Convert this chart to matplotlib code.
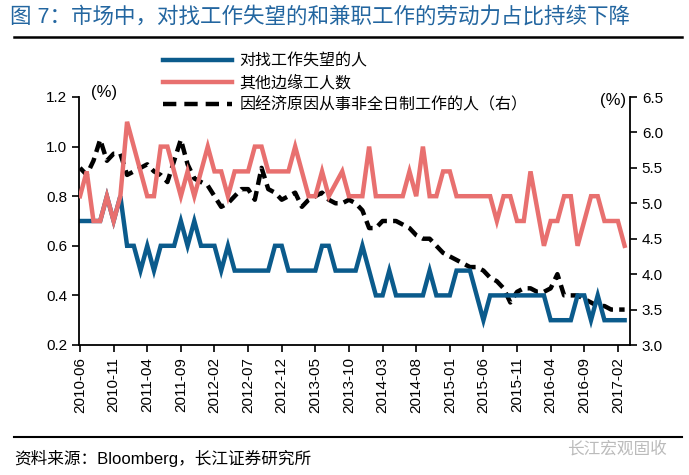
import matplotlib
matplotlib.use("Agg")
import matplotlib.pyplot as plt
from matplotlib.lines import Line2D
import pandas as pd

plt.rcParams['font.family'] = ['Liberation Sans', 'Noto Sans CJK SC', 'DejaVu Sans']

months = list(pd.period_range('2010-06', '2017-03', freq='M').strftime('%Y-%m'))

discouraged = [0.7, 0.7, 0.7, 0.7, 0.8, 0.7, 0.8, 0.6, 0.6, 0.5,
               0.6, 0.5, 0.6, 0.6, 0.6, 0.7, 0.6, 0.7, 0.6, 0.6,
               0.6, 0.5, 0.6, 0.5, 0.5, 0.5, 0.5, 0.5, 0.5, 0.6,
               0.6, 0.5, 0.5, 0.5, 0.5, 0.5, 0.6, 0.6, 0.5, 0.5,
               0.5, 0.5, 0.6, 0.5, 0.4, 0.4, 0.5, 0.4, 0.4, 0.4,
               0.4, 0.4, 0.5, 0.4, 0.4, 0.4, 0.5, 0.5, 0.5, 0.4,
               0.3, 0.4, 0.4, 0.4, 0.4, 0.4, 0.4, 0.4, 0.4, 0.4,
               0.3, 0.3, 0.3, 0.3, 0.4, 0.4, 0.3, 0.4, 0.3, 0.3,
               0.3, 0.3]

other_marginal = [0.8, 0.9, 0.7, 0.7, 0.8, 0.7, 0.8, 1.1, 1.0, 0.9,
                  0.8, 0.8, 1.0, 1.0, 0.9, 0.8, 0.9, 0.8, 0.9, 1.0,
                  0.9, 0.9, 0.8, 0.9, 0.9, 0.9, 1.0, 1.0, 0.9, 0.9,
                  0.9, 0.9, 1.0, 0.9, 0.8, 0.8, 0.9, 0.8, 0.85, 0.9,
                  0.8, 0.8, 0.8, 1.0, 0.8, 0.8, 0.8, 0.8, 0.8, 0.9,
                  0.8, 1.0, 0.8, 0.8, 0.9, 0.9, 0.8, 0.8, 0.8, 0.8,
                  0.8, 0.8, 0.7, 0.8, 0.8, 0.7, 0.7, 0.9, 0.75, 0.6,
                  0.7, 0.7, 0.8, 0.8, 0.6, 0.7, 0.8, 0.8, 0.7, 0.7,
                  0.7, 0.6]

part_time = [5.5, 5.4, 5.6, 5.9, 5.6, 5.7, 5.7, 5.4, 5.45, 5.5,
             5.55, 5.45, 5.4, 5.3, 5.6, 5.9, 5.55, 5.35, 5.3, 5.25,
             5.1, 4.95, 5.0, 5.1, 5.2, 5.2, 5.05, 5.5, 5.2, 5.15,
             5.05, 5.1, 5.15, 4.95, 5.05, 5.1, 5.15, 5.05, 5.0, 5.0,
             5.05, 5.0, 4.9, 4.65, 4.65, 4.75, 4.75, 4.75, 4.7, 4.65,
             4.55, 4.5, 4.5, 4.4, 4.3, 4.25, 4.2, 4.15, 4.1, 4.1,
             4.05, 3.95, 3.9, 3.8, 3.6, 3.75, 3.8, 3.8, 3.75, 3.75,
             3.8, 4.0, 3.7, 3.7, 3.7, 3.65, 3.6, 3.55, 3.55, 3.5,
             3.5, 3.5]

left_ticks = [0.2, 0.4, 0.6, 0.8, 1.0, 1.2]
right_ticks = [3.0, 3.5, 4.0, 4.5, 5.0, 5.5, 6.0, 6.5]

labels = ['对找工作失望的人', '其他边缘工人数', '因经济原因从事非全日制工作的人（右）']
title = '图 7：市场中，对找工作失望的和兼职工作的劳动力占比持续下降'
source = '资料来源：Bloomberg，长江证券研究所'
watermark = '长江宏观固收'

blue = '#0B5B8C'
pink = '#E8706F'

fig = plt.figure(figsize=(6.89, 4.75), dpi=100)
ax = fig.add_axes([79/689, 1-345/475, (630-79)/689, (345-97)/475])
ax2 = ax.twinx()

x = list(range(len(months)))
l1, = ax.plot(x, discouraged, color=blue, lw=3.2, solid_joinstyle='miter', zorder=2)
l2, = ax.plot(x, other_marginal, color=pink, lw=3.2, solid_joinstyle='miter', zorder=3)
l3, = ax2.plot(x, part_time, color='black', lw=3.2, dashes=(2.5, 1.4), zorder=4)

ax.set_ylim(0.2, 1.2)
ax2.set_ylim(3.0, 6.5)
ax.set_xlim(-0.15, len(months) - 1 + 0.8)
ax.set_yticks(left_ticks, [f'{v:.1f}' for v in left_ticks], fontsize=11)
ax2.set_yticks(right_ticks, [f'{v:.1f}' for v in right_ticks], fontsize=11)
ax.set_xticks(x[::5], months[::5], rotation=90, fontsize=11)

for a in (ax, ax2):
    a.spines['top'].set_visible(False)
    for s in a.spines.values():
        s.set_linewidth(1.3)
    a.tick_params(direction='out', length=5, width=1.2, colors='black')
ax.spines['right'].set_visible(False)
ax2.spines['left'].set_visible(False)
ax2.spines['bottom'].set_visible(False)
ax.set_zorder(ax2.get_zorder() + 1)
ax.patch.set_visible(False)

fig.text(104/689, 1-92/475, '(%)', fontsize=12, va='center', ha='center')
fig.text(613/689, 1-101/475, '(%)', fontsize=12, va='center', ha='center')

leg = fig.legend([l1, l2, l3], labels, loc='upper left', bbox_to_anchor=(155/689, 1-45/475),
                 frameon=False, fontsize=11.5, handlelength=4.3, handletextpad=0.5,
                 labelspacing=0.42, borderpad=0)
leg.get_lines()[2].set_dashes((3.0, 1.8))

fig.text(10/689, 1-17/475, title, fontsize=15.5, color='#2366A0', va='center', ha='left')
fig.add_artist(Line2D([14/689, 682/689], [1-37/475, 1-37/475], color='black', lw=1.8))
fig.add_artist(Line2D([14/689, 682/689], [1-437/475, 1-437/475], color='black', lw=1.5))
fig.text(14/689, 1-458/475, source, fontsize=12, va='center', ha='left')
fig.text(567/689, 1-449/475, watermark, fontsize=12, color='#BBBBBB', va='center', ha='left')

fig.savefig('out.png', dpi=100)
